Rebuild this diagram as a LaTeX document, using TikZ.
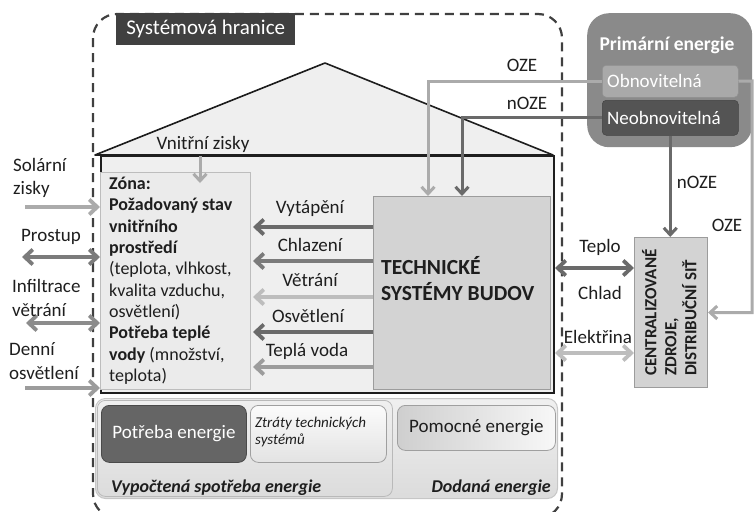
\documentclass[tikz,border=0pt]{standalone}
\usepackage{fontspec}
\setmainfont{Carlito}
\usetikzlibrary{arrows.meta,calc}

\definecolor{ink}{HTML}{1E1E1E}
\definecolor{bodyfill}{HTML}{EFEFEF}
\definecolor{zonefill}{HTML}{EBEBEB}
\definecolor{tsbfill}{HTML}{D3D3D3}
\definecolor{labeldark}{HTML}{404040}
\definecolor{primfill}{HTML}{8A8A8A}
\definecolor{renfill}{HTML}{A9A9A9}
\definecolor{nonrenfill}{HTML}{545454}
\definecolor{adark}{HTML}{6A6A6A}
\definecolor{amid}{HTML}{7B7B7B}
\definecolor{asoft}{HTML}{9C9C9C}
\definecolor{alight}{HTML}{BDBDBD}
\definecolor{ozeline}{HTML}{ABABAB}

\tikzset{
  txt/.style={font=\fontsize{19}{23.5}\selectfont, inner sep=0pt, text=ink},
  tip/.style={-{Straight Barb[length=8pt,width=15pt]}},
  dtip/.style={{Straight Barb[length=8pt,width=15pt]}-{Straight Barb[length=8pt,width=15pt]}},
  flow/.style={line width=3.8pt, tip},
  flow2/.style={line width=3.8pt, dtip},
  feed/.style={line width=3pt, -{Straight Barb[length=7pt,width=13pt]}},
  boundary/.style={draw=labeldark, line width=2.2pt, dash pattern=on 9pt off 6pt, rounded corners=24pt},
  panel/.style={rounded corners=8pt, inner sep=0pt, anchor=north west},
}

\begin{document}
\begin{tikzpicture}[x=1pt,y=-1pt]
\useasboundingbox (0,0) rectangle (756,512);

% system boundary
\draw[boundary] (93,14) rectangle (562,518);

% house: roof and body
\draw[ink, line width=1.6pt, fill=bodyfill, line join=round] (95,155) -- (325,63) -- (553,155) -- cycle;
\node[draw=ink, line width=2pt, fill=bodyfill, anchor=north west, inner sep=0pt,
      minimum width=453, minimum height=237] (body) at (100,155) {};
\draw[ink, line width=2.4pt] (95,155) -- (553,155);

% zone
\node[draw=alight, line width=1pt, fill=zonefill, anchor=north west, inner sep=0pt,
      minimum width=150, minimum height=217] (zone) at (100,172) {};
\node[txt, anchor=north west, align=left, font=\fontsize{18}{21.3}\selectfont] (zonetxt) at (109,177)
  {\textbf{Zóna:}\\
   \textbf{Požadovaný stav}\\
   \textbf{vnitřního}\\
   \textbf{prostředí}\\
   (teplota, vlhkost,\\
   kvalita vzduchu,\\
   osvětlení)\\
   \textbf{Potřeba teplé}\\
   \textbf{vody} (množství,\\
   teplota)};

% internal gains
\node[txt] (vz) at (203,144) {Vnitřní zisky};
\coordinate (vzend) at (200,183);
\draw[feed, draw=ozeline] (vz.south -| vzend) ++(0,4) -- (vzend);

% technical building systems
\node[draw=asoft, line width=1pt, fill=tsbfill, anchor=north west, inner sep=0pt,
      minimum width=177, minimum height=193] (tsb) at (373,196) {};
\node[txt, anchor=west, align=left, font=\bfseries\fontsize{21.5}{26}\selectfont] (tsbtxt) at (381,279)
  {TECHNICKÉ\\SYSTÉMY BUDOV};

% outputs of the technical systems into the zone
\coordinate (zr1) at (253,227);
\coordinate (zr2) at (253,261);
\coordinate (zr3) at (253,297);
\coordinate (zr4) at (253,332);
\coordinate (zr5) at (253,367);
\draw[flow, draw=adark]  (tsb.west |- zr1) -- (zr1);
\draw[flow, draw=amid]   (tsb.west |- zr2) -- (zr2);
\draw[flow, draw=alight] (tsb.west |- zr3) -- (zr3);
\draw[flow, draw=adark]  (tsb.west |- zr4) -- (zr4);
\draw[flow, draw=asoft]  (tsb.west |- zr5) -- (zr5);
\node[txt] (l1) at (310,209) {Vytápění};
\node[txt] (l2) at (310,245) {Chlazení};
\node[txt] (l3) at (310,280) {Větrání};
\node[txt] (l4) at (308,316) {Osvětlení};
\node[txt] (l5) at (307,351) {Teplá voda};

% external influences
\coordinate (e1) at (100,207);
\coordinate (e2) at (100,257);
\coordinate (e3) at (100,323);
\coordinate (e4) at (100,388);
\coordinate (s1) at (25,207);
\coordinate (s2) at (22,257);
\coordinate (s3) at (26,323);
\coordinate (s4) at (25,388);
\draw[flow, draw=ozeline] (s1) -- (e1);
\draw[flow2, draw=amid] (s2) -- (e2);
\draw[flow2, draw=asoft!90!black] (s3) -- (e3);
\draw[flow, draw=asoft] (s4) -- (e4);
\node[txt, anchor=west, align=left] (sol) at (13,178) {Solární\\zisky};
\node[txt] (pro) at (51,237) {Prostup};
\node[txt, anchor=west, align=left] (inf) at (12,298) {Infiltrace\\větrání};
\node[txt, anchor=west, align=left] (den) at (9,361) {Denní\\osvětlení};

% system boundary label
\node[fill=labeldark, anchor=north west, inner sep=0pt, minimum width=179, minimum height=32] (sh) at (116,13) {};
\node[txt, text=white, font=\fontsize{21}{24}\selectfont] at (sh.center) {Systémová hranice};

% primary energy
\node[fill=primfill, rounded corners=22pt, anchor=north west, inner sep=0pt,
      minimum width=165, minimum height=134] (prim) at (587,13) {};
\node[txt, text=white, font=\bfseries\fontsize{19.5}{23}\selectfont] (primtxt) at (667,45) {Primární energie};
\node[fill=renfill, draw=renfill!85!black, line width=0.5pt, rounded corners=4pt, anchor=north west, inner sep=0pt,
      minimum width=136, minimum height=32] (obn) at (602,65) {};
\node[txt, text=white, anchor=west] at ($(obn.west)+(5,0)$) {Obnovitelná};
\node[fill=nonrenfill, draw=nonrenfill!80!black, line width=0.5pt, rounded corners=4pt, anchor=north west, inner sep=0pt,
      minimum width=136, minimum height=35] (neo) at (602,100) {};
\node[txt, text=white, anchor=west] at ($(neo.west)+(5,0)$) {Neobnovitelná};

% centralised sources
\node[draw=asoft, line width=1pt, fill=tsbfill, anchor=north west, inner sep=0pt,
      minimum width=73, minimum height=150] (cz) at (634,237) {};
\node[txt, rotate=90, anchor=north west, align=left, font=\bfseries\fontsize{17}{20}\selectfont] (cztxt) at (642,376)
  {CENTRALIZOVANÉ\\ZDROJE,\\DISTRIBUČNÍ SIŤ};

% renewable and non-renewable supply
\coordinate (tsbA) at (428,196);
\coordinate (tsbB) at (462,196);
\draw[feed, draw=ozeline] (obn.west) -| (tsbA);
\draw[feed, draw=adark] (neo.west) -| (tsbB);
\node[txt] (oze1) at (522,65) {OZE};
\node[txt] (noze1) at (527,103) {nOZE};

\coordinate (ozeturn) at (752,81);
\draw[feed, draw=adark] (neo.south) -- (neo.south |- cz.north);
\draw[feed, draw=ozeline] (obn.east) -- (ozeturn) |- (cz.east);
\node[txt] (noze2) at (697,182) {nOZE};
\node[txt] (oze2) at (727,225) {OZE};

% exchange with the centralised sources
\coordinate (t1) at (555,268);
\coordinate (t2) at (555,353);
\draw[flow2, draw=adark] (t1) -- (cz.west |- t1);
\draw[flow2, draw=alight] (t2) -- (cz.west |- t2);
\node[txt] (tep) at (600,247) {Teplo};
\node[txt] (chl) at (600,293) {Chlad};
\node[txt] (ele) at (598,337) {Elektřina};

% energy balance panel
\node[panel, rounded corners=10pt, top color=gray!12, bottom color=gray!28, draw=gray!45, line width=1pt,
      minimum width=462, minimum height=100] (bal) at (95,398) {};
\node[panel, draw=gray!55, line width=0.8pt, minimum width=295, minimum height=96] (calc) at (97,400) {};
\node[panel, fill=adark!95!black, draw=adark!70!black, line width=0.8pt,
      minimum width=145, minimum height=57] (pot) at (101,405) {};
\node[txt, text=white] at (pot.center) {Potřeba energie};
\node[panel, top color=gray!3, bottom color=gray!22, draw=gray!75, line width=0.8pt,
      minimum width=136, minimum height=57] (ztr) at (250,405) {};
\node[txt, anchor=north west, align=left, font=\itshape\fontsize{15}{17}\selectfont] at ($(ztr.north west)+(5,12)$)
  {Ztráty technických\\systémů};
\node[panel, left color=gray!38, right color=gray!6, draw=gray!75, line width=0.8pt,
      minimum width=158, minimum height=45] (pom) at (397,405) {};
\node[txt] at (pom.center) {Pomocné energie};
\node[txt, anchor=west, font=\bfseries\itshape\fontsize{18}{21}\selectfont] (vyp) at (111,488) {Vypočtená spotřeba energie};
\node[txt, anchor=east, font=\bfseries\itshape\fontsize{18}{21}\selectfont] (dod) at (551,488) {Dodaná energie};
\end{tikzpicture}
\end{document}
